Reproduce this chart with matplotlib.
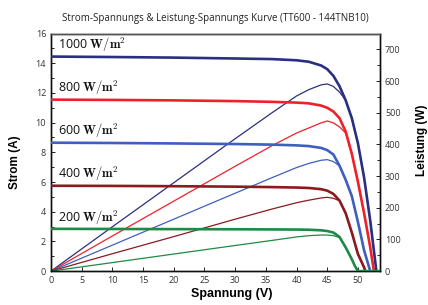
import matplotlib.pyplot as plt
from matplotlib.ticker import MultipleLocator

plt.rcParams['mathtext.fontset'] = 'cm'

# I-V curves (Spannung V, Strom A)
v_1000 = [0, 10, 20, 30, 36, 40, 42, 44, 45, 46, 47, 48, 49, 50, 51, 52, 53]
i_1000 = [14.45, 14.42, 14.38, 14.32, 14.28, 14.2, 14.1, 13.85, 13.6, 13.15, 12.45, 11.5, 10.3, 8.6, 6.3, 3.4, 0]
p_1000 = [0, 140, 279, 418, 500, 553, 573, 588, 591, 583, 565, 540, 484, 404, 296, 160, 0]

v_800 = [0, 10, 20, 30, 36, 40, 42, 44, 45, 46, 47, 48, 49, 50, 51, 52, 52.6]
i_800 = [11.55, 11.53, 11.5, 11.45, 11.4, 11.35, 11.3, 11.15, 11.0, 10.75, 10.3, 9.4, 7.9, 6.0, 3.9, 1.6, 0]
p_800 = [0, 111, 221, 331, 396, 436, 452, 468, 474, 468, 455, 436, 371, 282, 183, 75, 0]

v_600 = [0, 10, 20, 30, 36, 40, 42, 44, 45, 46, 47, 48, 49, 50, 51, 52]
i_600 = [8.65, 8.63, 8.6, 8.56, 8.52, 8.47, 8.42, 8.3, 8.15, 7.85, 7.1, 6.15, 5.05, 3.3, 1.4, 0]
p_600 = [0, 82, 164, 246, 295, 327, 340, 350, 352, 346, 332, 289, 237, 155, 66, 0]

v_400 = [0, 10, 20, 30, 36, 40, 42, 44, 45, 46, 47, 48, 49, 50, 51, 51.2]
i_400 = [5.75, 5.74, 5.72, 5.69, 5.66, 5.63, 5.6, 5.52, 5.42, 5.2, 4.75, 3.9, 2.6, 1.15, 0.25, 0]
p_400 = [0, 55, 109, 164, 196, 216, 224, 231, 233, 230, 222, 183, 122, 54, 12, 0]

v_200 = [0, 10, 20, 30, 36, 40, 42, 44, 45, 46, 47, 48, 49, 49.5, 50, 53.6]
i_200 = [2.85, 2.84, 2.83, 2.82, 2.81, 2.8, 2.79, 2.75, 2.7, 2.6, 2.3, 1.6, 0.8, 0.35, 0, 0]
p_200 = [0, 27, 54, 81, 97, 108, 112, 114, 114, 112, 106, 75, 38, 16, 0, 0]

labels = ["1000", "800", "600", "400", "200"]
label_i = [14.6, 11.7, 8.85, 5.95, 3.0]
colors = ["#2b2f80", "#f0202a", "#3d5fc0", "#8b1a1f", "#1e8a45"]

fig = plt.figure(figsize=(4.28, 3.05), dpi=100)
ax = fig.add_axes([0.119, 0.111, 0.769, 0.779])
ax2 = ax.twinx()

curves = [(v_1000, i_1000, p_1000), (v_800, i_800, p_800), (v_600, i_600, p_600),
          (v_400, i_400, p_400), (v_200, i_200, p_200)]
for (v, i, p), c, lab, ly in zip(curves, colors, labels, label_i):
    ax.plot(v, i, color=c, lw=1.9, solid_joinstyle='round', zorder=3)
    ax2.plot(v, p, color=c, lw=0.9)
    ax.text(1.2, ly, lab + r" $\mathbf{W/m^2}$", fontsize=9, family="Open Sans",
            color="#111111", va="bottom", ha="left", zorder=4)

ax.set_xlim(0, 53.6)
ax.set_ylim(0, 16)
ax2.set_ylim(0, 750)
ax.set_zorder(ax2.get_zorder() + 1)
ax.patch.set_visible(False)

ax.xaxis.set_major_locator(MultipleLocator(5))
ax.yaxis.set_major_locator(MultipleLocator(2))
ax.yaxis.set_minor_locator(MultipleLocator(1))
ax2.yaxis.set_major_locator(MultipleLocator(100))
ax2.yaxis.set_minor_locator(MultipleLocator(50))

for a in (ax, ax2):
    a.tick_params(which='both', direction='in', labelsize=6.5, labelcolor='#333333',
                  colors='#222222', width=0.7)
    a.tick_params(which='major', length=3)
    a.tick_params(which='minor', length=2)
    for lab in a.get_xticklabels() + a.get_yticklabels():
        lab.set_family("Open Sans")
    for s in a.spines.values():
        s.set_linewidth(1.0)
        s.set_color('#111111')
ax.spines['top'].set_color('#555555')

ax.set_title("Strom-Spannungs & Leistung-Spannungs Kurve (TT600 - 144TNB10)",
             fontsize=7, family="Open Sans", color="#222222", pad=9)
ax.set_xlabel("Spannung (V)", fontsize=9, fontweight='bold', family="Liberation Sans")
ax.set_ylabel("Strom (A)", fontsize=8.5, fontweight='bold', family="Liberation Sans")
ax2.set_ylabel("Leistung (W)", fontsize=8.5, fontweight='bold', family="Liberation Sans")
ax.xaxis.set_label_coords(0.55, -0.07)
ax.yaxis.set_label_coords(-0.09, 0.46)
ax2.yaxis.set_label_coords(1.11, 0.55)

fig.savefig("out.png", dpi=100)
